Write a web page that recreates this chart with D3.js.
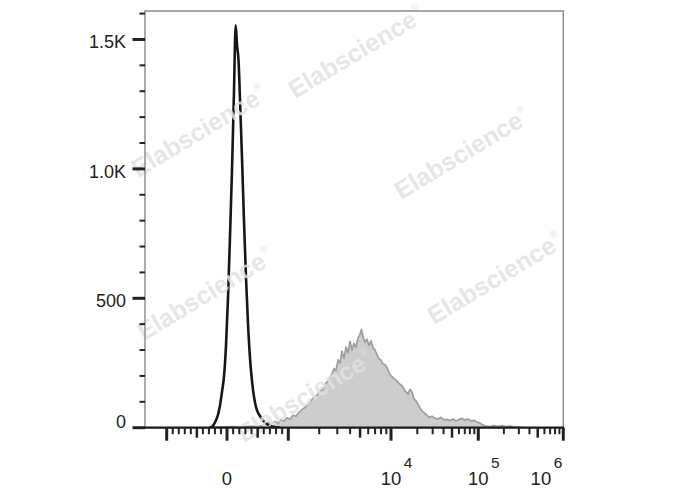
<!DOCTYPE html>
<html><head><meta charset="utf-8">
<script src="https://cdn.jsdelivr.net/npm/d3@7"></script>
<style>html,body{margin:0;padding:0;background:#fff;}svg{display:block;font-family:"Liberation Sans",Arial,Helvetica,sans-serif;}</style>
</head><body>
<svg id="chart" width="688" height="490"></svg>
<script>
// ---------- data ----------
// black (control) histogram: fluorescence intensity, counts
const blackX = [-294,-245,-196,-147,-114,-82,-49,-16,16,49,82,114,142,163,188,212,245,277,310,343,375,408,440,473,506,538,587,636,701,783,864];
const blackY = [0,4,22,52,90,140,200,320,500,740,1000,1300,1555,1480,1420,1270,1040,800,580,400,270,180,120,80,58,45,28,16,7,2,0];
// gray (stained) histogram: fluorescence intensity, counts
const grayX = [-212,-114,-16,82,179,277,375,473,571,636,685,734,783,832,881,930,979,
  1040,1110,1190,1270,1360,1450,1560,1660,1780,1900,2040,2180,2330,2490,2660,2790,2910,3050,3190,3330,3490,3650,3810,3990,4170,4360,4560,4770,4990,5160,5340,5580,5840,6110,6390,6680,6980,7310,7640,7990,8360,8740,9140,9560,10000,
  10500,11400,12400,13400,14500,15700,16500,17400,18300,19300,20400,21500,23300,25200,27200,29500,31900,34500,37400,40500,43800,47400,51300,55500,60100,65100,70400,76200,82500,89300,96600,
  104700,113600,123200,137300,153000,170500,190000,211800,236000,263000,293100,344800];
const grayY = [2,3,3,4,3,4,5,6,8,12,20,14,24,18,30,26,38,
  33,48,44,60,70,78,92,104,118,126,142,150,172,184,208,228,220,262,250,296,268,312,290,334,300,326,310,346,362,380,352,330,342,318,336,310,300,282,266,262,246,244,232,214,200,
  194,184,170,162,142,130,148,138,112,104,90,76,60,52,40,44,36,34,40,30,32,28,34,26,32,36,30,34,26,28,22,
  18,10,6,4,8,5,8,4,6,3,2,0];

const yMajorTicks = [0, 500, 1000, 1500];
const yTickLabels = ["0", "500", "1.0K", "1.5K"];
const yMinorTicks = [100,200,300,400,600,700,800,900,1100,1200,1300,1400,1600];

const xMajorTicks = [-1000, 0, 1000, 1e4, 1e5, 1e6];
const xMidTicks = [-500, 500, 5000, 5e4, 5e5];
const xMinorTicks = [-900,-800,-700,-600,-400,-300,-200,-100,100,200,300,400,600,700,800,900,
  2000,3000,4000,6000,7000,8000,9000,
  2e4,3e4,4e4,6e4,7e4,8e4,9e4,
  2e5,3e5,4e5,6e5,7e5,8e5,9e5];
const xLabelTicks = [0, 1e4, 1e5, 1e6];
const xLabelBase = ["0", "10", "10", "10"];
const xLabelExp = ["", "4", "5", "6"];

const watermarkText = "Elabscience";
const watermarkSpots = [[356,52],[462,153],[495,278],[199,131],[205,294],[305,396]];

// ---------- layout ----------
const plot = {left:145, right:563.3, top:11, bottom:427.7};
const svg = d3.select("#chart");

// biexponential-style display transform: linear within +-1000, log beyond
function tf(v){ const a = Math.abs(v); return a <= 1000 ? v/1000 : Math.sign(v)*(Math.log10(a)-2); }
const xT = d3.scaleLinear().domain([-1,0,1,2,3,4]).range([166.7,227,288.3,391,478.3,563.3]);
const x = v => xT(tf(v));
const y = d3.scaleLinear().domain([0,1610]).range([plot.bottom, plot.top]);

svg.append("defs").append("clipPath").attr("id","clip")
  .append("rect").attr("x",plot.left).attr("y",plot.top)
  .attr("width",plot.right-plot.left).attr("height",plot.bottom-plot.top);

const g = svg.append("g").attr("clip-path","url(#clip)");

// gray filled histogram
const area = d3.area().x((d,i)=>x(grayX[i])).y0(y(0)).y1((d,i)=>y(grayY[i]));
const line2 = d3.line().x((d,i)=>x(grayX[i])).y((d,i)=>y(grayY[i]));
g.append("path").datum(grayY).attr("d",area).attr("fill","#cdcdcd").attr("stroke","none");
g.append("path").datum(grayY).attr("d",line2).attr("fill","none").attr("stroke","#9e9e9e").attr("stroke-width",1.7).attr("stroke-linejoin","round");

// watermarks
const wm = svg.append("g");
watermarkSpots.forEach(([cx,cy])=>{
  const t = wm.append("text").attr("transform",`translate(${cx},${cy}) rotate(-31)`)
    .attr("text-anchor","middle").attr("dy","0.35em")
    .attr("font-size",25).attr("font-weight","bold").attr("fill","#e2e2e2").attr("fill-opacity",0.85);
  t.append("tspan").text(watermarkText);
  t.append("tspan").attr("font-size",10).attr("font-weight","normal").attr("dy","-1.3em").attr("dx","1").text("®");
});

// black line histogram
const line1 = d3.line().x((d,i)=>x(blackX[i])).y((d,i)=>y(blackY[i])).curve(d3.curveMonotoneX);
g.append("path").datum(blackY).attr("d",line1).attr("fill","none").attr("stroke","#161616").attr("stroke-width",2.6).attr("stroke-linejoin","round");

// frame
svg.append("path").attr("d",`M${plot.left},${plot.bottom}V${plot.top}H${plot.right}V${plot.bottom}`)
  .attr("fill","none").attr("stroke","#8a8a8a").attr("stroke-width",1.4);
svg.append("line").attr("x1",plot.left).attr("x2",plot.right+0.7).attr("y1",plot.bottom).attr("y2",plot.bottom)
  .attr("stroke","#1a1a1a").attr("stroke-width",2.2);

// y ticks
const yAx = svg.append("g");
yAx.selectAll("line.ymin").data(yMinorTicks).join("line").attr("class","ymin")
  .attr("x1",plot.left-5.5).attr("x2",plot.left).attr("y1",d=>y(d)).attr("y2",d=>y(d))
  .attr("stroke","#222").attr("stroke-width",2);
yAx.selectAll("line.ymaj").data(yMajorTicks).join("line").attr("class","ymaj")
  .attr("x1",plot.left-12.5).attr("x2",plot.left).attr("y1",d=>y(d)).attr("y2",d=>y(d))
  .attr("stroke","#222").attr("stroke-width",3);
yAx.selectAll("text").data(yMajorTicks).join("text")
  .attr("x",126).attr("y",d=>Math.min(y(d)+9, plot.bottom+0.5))
  .attr("text-anchor","end").attr("font-size",18).attr("fill","#222")
  .text((d,i)=>yTickLabels[i]);

// x ticks
const xAx = svg.append("g");
const tickY0 = plot.bottom;
xAx.selectAll("line.xmin").data(xMinorTicks).join("line").attr("class","xmin")
  .attr("x1",d=>x(d)).attr("x2",d=>x(d)).attr("y1",tickY0).attr("y2",tickY0+6.5)
  .attr("stroke","#222").attr("stroke-width",2);
xAx.selectAll("line.xmid").data(xMidTicks).join("line").attr("class","xmid")
  .attr("x1",d=>x(d)).attr("x2",d=>x(d)).attr("y1",tickY0).attr("y2",tickY0+10)
  .attr("stroke","#222").attr("stroke-width",2.5);
xAx.selectAll("line.xmaj").data(xMajorTicks).join("line").attr("class","xmaj")
  .attr("x1",d=>x(d)).attr("x2",d=>x(d)).attr("y1",tickY0).attr("y2",tickY0+13)
  .attr("stroke","#222").attr("stroke-width",3);

xLabelTicks.forEach((v,i)=>{
  const t = xAx.append("text").attr("y",485).attr("font-size",18.5).attr("fill","#222");
  t.append("tspan").text(xLabelBase[i]);
  if (xLabelExp[i]) t.append("tspan").attr("font-size",15.5).attr("dx",2.5).attr("dy",-17).text(xLabelExp[i]);
  const baseW = t.select("tspan").node().getComputedTextLength();
  const full = t.node().getBBox().width;
  let left = x(v) - baseW/2;
  if (left + full > plot.right - 1) left = plot.right - 1 - full;
  t.attr("x", left);
});
</script>
</body></html>
